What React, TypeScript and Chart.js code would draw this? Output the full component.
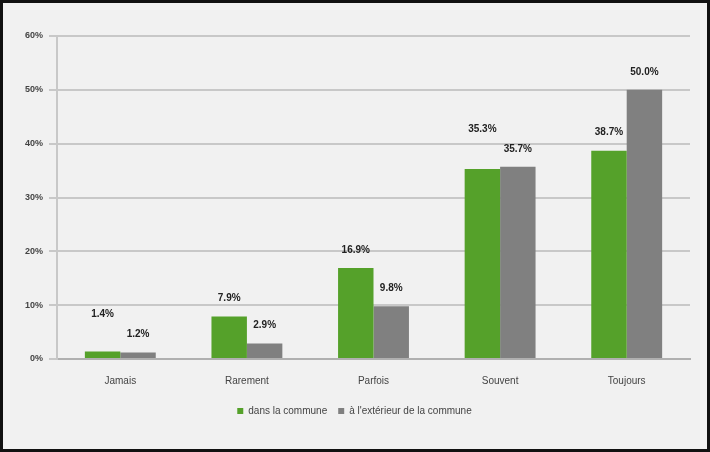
import React, { useEffect, useRef } from "react";
import { Chart, registerables } from "chart.js";

Chart.register(...registerables);

const categories = ["Jamais", "Rarement", "Parfois", "Souvent", "Toujours"];
const seriesNames = ["dans la commune", "à l'extérieur de la commune"];
const insideValues = [1.4, 7.9, 16.9, 35.3, 38.7];
const outsideValues = [1.2, 2.9, 9.8, 35.7, 50.0];
const insideLabels = ["1.4%", "7.9%", "16.9%", "35.3%", "38.7%"];
const outsideLabels = ["1.2%", "2.9%", "9.8%", "35.7%", "50.0%"];

const GREEN = "#55a12a";
const GREY = "#808080";

const labelPlugin = {
  id: "barLabels",
  afterDatasetsDraw(chart: any) {
    const ctx = chart.ctx;
    const m0 = chart.getDatasetMeta(0);
    const m1 = chart.getDatasetMeta(1);
    ctx.save();
    ctx.font = "bold 10px 'Liberation Sans', Arial, sans-serif";
    ctx.fillStyle = "#222";
    ctx.textAlign = "center";
    ctx.textBaseline = "middle";
    for (let i = 0; i < categories.length; i++) {
      const b0 = m0.data[i];
      const b1 = m1.data[i];
      const y1 = b1.y - 18;
      let y0 = b0.y - 18;
      if (Math.abs(y0 - y1) < 20) y0 = Math.min(y0, y1 - 20);
      ctx.fillText(insideLabels[i], b0.x, y0);
      ctx.fillText(outsideLabels[i], b1.x, y1);
    }
    ctx.restore();
  },
};

export default function App() {
  const ref = useRef<HTMLCanvasElement>(null);
  useEffect(() => {
    if (!ref.current) return;
    const chart = new Chart(ref.current, {
      type: "bar",
      data: {
        labels: categories,
        datasets: [
          {
            label: seriesNames[0],
            data: insideValues,
            backgroundColor: GREEN,
            borderWidth: 0,
            barPercentage: 1,
            categoryPercentage: 0.56,
          },
          {
            label: seriesNames[1],
            data: outsideValues,
            backgroundColor: GREY,
            borderWidth: 0,
            barPercentage: 1,
            categoryPercentage: 0.56,
          },
        ],
      },
      options: {
        responsive: false,
        animation: false,
        layout: { padding: { left: 16, right: 17, top: 33, bottom: 23 } },
        plugins: {
          tooltip: { enabled: false },
          legend: {
            position: "bottom",
            labels: {
              boxWidth: 6,
              boxHeight: 6,
              padding: 11,
              color: "#444",
              font: { size: 10, family: "'Liberation Sans', Arial, sans-serif" },
            },
          },
        },
        scales: {
          x: {
            grid: { display: false },
            border: { color: "#b0b0b0", width: 2 },
            ticks: {
              color: "#444",
              font: { size: 10, family: "'Liberation Sans', Arial, sans-serif" },
              padding: 8,
            },
          },
          y: {
            min: 0,
            max: 60,
            ticks: {
              stepSize: 10,
              color: "#444",
              font: { size: 9, weight: "bold", family: "'Liberation Sans', Arial, sans-serif" },
              callback: (v: any) => v + "%",
              padding: 6,
            },
            grid: { color: "#c8c8c8", lineWidth: 2, tickLength: 8 },
            border: { color: "#c8c8c8", width: 2 },
          },
        },
      },
      plugins: [labelPlugin],
    });
    return () => chart.destroy();
  }, []);
  return (
    <div
      style={{
        position: "fixed",
        left: 0,
        top: 0,
        width: 710,
        height: 452,
        boxSizing: "border-box",
        border: "3px solid #111",
        background: "#f1f1f1",
      }}
    >
      <canvas ref={ref} width={704} height={446} style={{ display: "block" }} />
    </div>
  );
}
